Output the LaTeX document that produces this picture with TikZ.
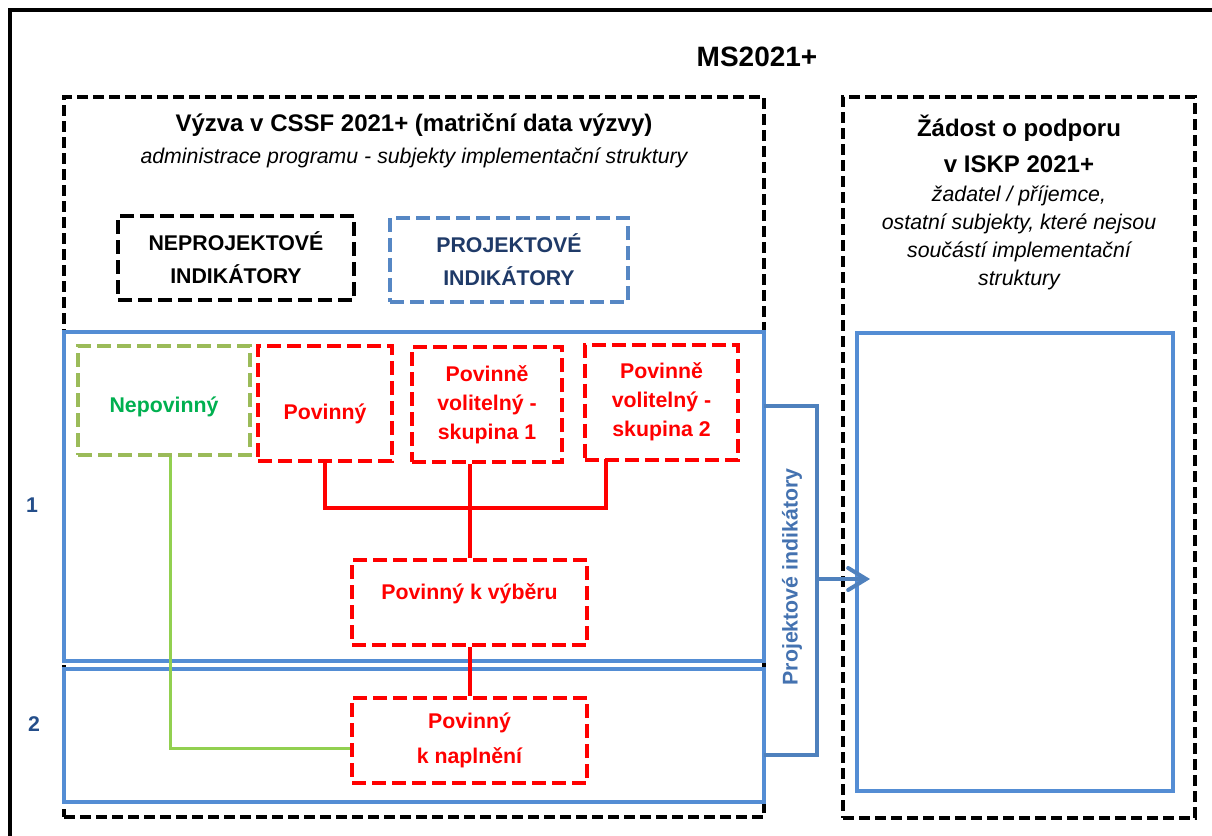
\documentclass[tikz,border=0pt]{standalone}
\usepackage{fontspec}
\setmainfont{Liberation Sans}
\usetikzlibrary{arrows.meta}
\definecolor{boxblue}{RGB}{84,141,212}
\definecolor{brkblue}{RGB}{79,129,189}
\definecolor{dashblue}{RGB}{86,135,196}
\definecolor{navy}{RGB}{31,58,104}
\definecolor{numblue}{RGB}{36,78,138}
\definecolor{pindblue}{RGB}{68,114,176}
\definecolor{grdash}{RGB}{155,187,89}
\definecolor{grtext}{RGB}{0,176,80}
\definecolor{grline}{RGB}{146,208,80}
\newcommand{\bigf}{\fontsize{12}{18}\selectfont}
\newcommand{\midf}{\fontsize{10.65}{16.5}\selectfont}

\begin{document}
\begin{tikzpicture}[x=0.5pt,y=-0.5pt]
 	\tikzstyle{every node}+=[inner sep=0pt, align=center]
 	\tikzstyle{outerbox}=[draw=black, line width=2pt, dash pattern=on 5.5pt off 2.5pt]
 	\tikzstyle{kindbox}=[line width=2pt, dash pattern=on 7pt off 3pt, font=\bfseries\midf]
 	\tikzstyle{redbox}=[draw=red, text=red, line width=2pt, dash pattern=on 7pt off 3pt, font=\bfseries\fontsize{10.65}{14.5}\selectfont]
 	\tikzstyle{levelbox}=[draw=boxblue, line width=2pt, minimum width=350pt]
 	\tikzstyle{redline}=[draw=red, line width=2pt]
 	\tikzstyle{bracket}=[draw=brkblue, line width=2pt]
 	\useasboundingbox (0,0) rectangle (1212,836);
 	\clip (0,0) rectangle (1212,836);
 	\fill [white] (0,0) rectangle (1212,836);
 	% outer frame
 	\draw [line width=2pt] (10,900) -- (10,10) -- (1300,10);
 	\node [font=\bfseries\fontsize{14}{17}\selectfont] (ms) at (757,57) {MS2021+};
 	% left part: call
 	\node [outerbox, minimum width=350pt, minimum height=360pt] (vyzva) at (414,457) {};
 	\node [font=\bfseries\bigf] (vyzvahead) at (414,125) {Výzva v CSSF 2021+ (matriční data výzvy)};
 	\node [font=\itshape\midf] (vyzvasub) at (414,158) {administrace programu - subjekty implementační struktury};
 	\node [kindbox, draw=black, minimum width=118pt, minimum height=42pt] (neproj) at (236,258) {NEPROJEKTOVÉ\\INDIKÁTORY};
 	\node [kindbox, draw=dashblue, text=navy, minimum width=119pt, minimum height=42pt] (proj) at (509,260) {PROJEKTOVÉ\\INDIKÁTORY};
 	% levels
 	\node [levelbox, minimum height=164.5pt] (lvl1) at (414,496.5) {};
 	\node [levelbox, minimum height=66.5pt] (lvl2) at (414,735.5) {};
 	\node [font=\bfseries\midf, text=numblue] (num1) at (32,505) {1};
 	\node [font=\bfseries\midf, text=numblue] (num2) at (34,724) {2};
 	% indicator kinds
 	\node [kindbox, draw=grdash, text=grtext, minimum width=86pt, minimum height=54.5pt, text height=14pt, text depth=2pt] (nep) at (164,400.5) {Nepovinný};
 	\node [redbox, minimum width=67pt, minimum height=57.5pt, text height=17.5pt, text depth=2pt] (pov) at (325,403.5) {Povinný};
 	\node [redbox, minimum width=75pt, minimum height=57.5pt] (sk1) at (487,404.5) {Povinně\\volitelný -\\skupina 1};
 	\node [redbox, minimum width=76.5pt, minimum height=57.5pt] (sk2) at (661.5,402) {Povinně\\volitelný -\\skupina 2};
 	\node [redbox, minimum width=117.5pt, minimum height=42.5pt, text height=8pt, text depth=11.4pt] (vyb) at (469.5,602.5) {Povinný k výběru};
 	\node [redbox, font=\bfseries\fontsize{10.65}{17.5}\selectfont, minimum width=117.5pt, minimum height=42.5pt] (nap) at (469.5,740.5) {Povinný\\k naplnění};
 	% links
 	\coordinate (jn) at (469,508);
 	\coordinate (sk2foot) at (606,459);
 	\draw [redline] (pov.south) |- (jn) -| (sk2foot);
 	\draw [redline] (vyb.north) -- (vyb.north |- sk1.south);
 	\draw [redline] (vyb.south) -- (nap.north);
 	\draw [draw=grline, line width=1.5pt] ([xshift=3pt]nep.south) |- ([yshift=-4pt]nap.west);
 	% right part: application
 	\node [outerbox, minimum width=176pt, minimum height=360.5pt] (zadost) at (1019,457.5) {};
 	\node [font=\bfseries\fontsize{12}{18}\selectfont] (zadosthead) at (1019,144) {Žádost o podporu\\v ISKP 2021+};
 	\node [font=\itshape\fontsize{10.65}{14}\selectfont] (zadostsub) at (1019,237.5) {žadatel / příjemce,\\ostatní subjekty, které nejsou\\součástí implementační\\struktury};
 	\node [draw=boxblue, line width=2pt, minimum width=158pt, minimum height=229pt] (rin) at (1015,562) {};
 	% project indicators handed over
 	\coordinate (bt) at (764,406);
 	\coordinate (bb) at (764,755);
 	\coordinate (bm) at (817,579);
 	\coordinate (tip) at (870,579);
 	\draw [bracket] (bt) -| (bm) |- (bb);
 	\draw [bracket, -{Straight Barb[length=9pt,width=11pt,line cap=round]}] (bm) -- (tip);
 	\node [rotate=90, font=\bfseries\midf, text=pindblue] (pind) at (792,577) {Projektové indikátory};
\end{tikzpicture}
\end{document}
